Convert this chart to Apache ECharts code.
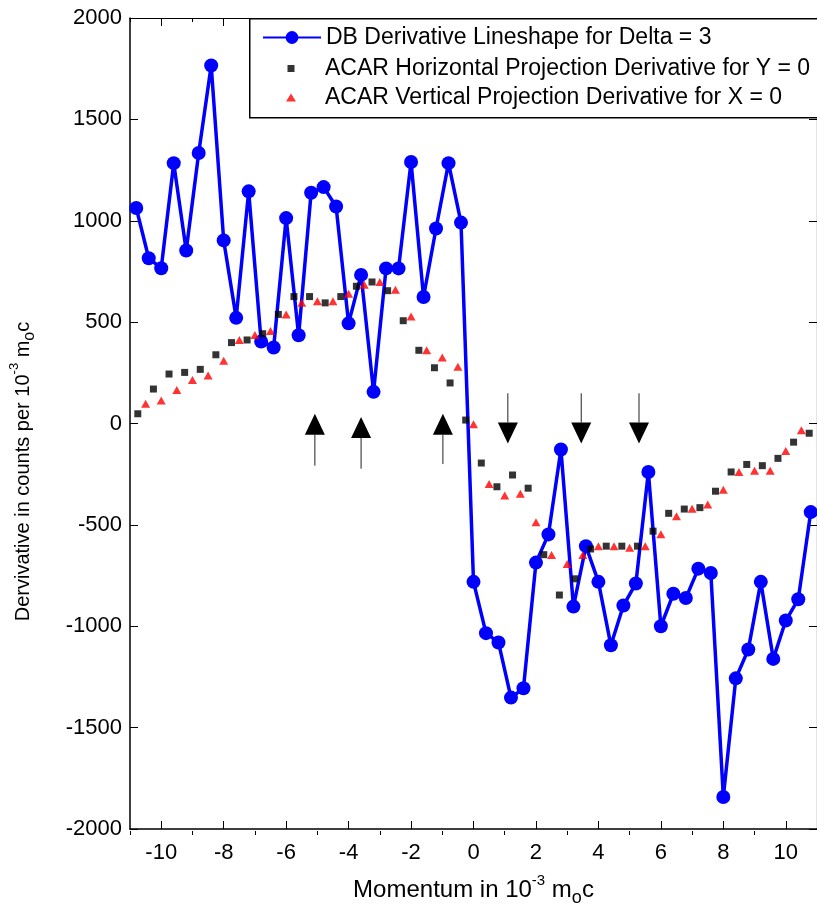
<!DOCTYPE html>
<html><head><meta charset="utf-8">
<script src="https://cdn.jsdelivr.net/npm/echarts@6/dist/echarts.min.js"></script>
<style>html,body{margin:0;padding:0;background:#fff}#c{width:817px;height:912px}</style>
</head><body><div id="c"></div>
<script>
// ---- data ----
const blueX = [-10.8,-10.4,-10.0,-9.6,-9.2,-8.8,-8.4,-8.0,-7.6,-7.2,-6.8,-6.4,-6.0,-5.6,-5.2,-4.8,-4.4,-4.0,-3.6,-3.2,-2.8,-2.4,-2.0,-1.6,-1.2,-0.8,-0.4,0,0.4,0.8,1.2,1.6,2.0,2.4,2.8,3.2,3.6,4.0,4.4,4.8,5.2,5.6,6.0,6.4,6.8,7.2,7.6,8.0,8.4,8.8,9.2,9.6,10.0,10.4,10.8];
const blueY = [1063,815,766,1284,853,1334,1766,903,521,1145,404,375,1013,435,1138,1166,1070,494,733,156,765,765,1290,624,962,1284,991,-781,-1034,-1080,-1352,-1306,-686,-547,-128,-903,-605,-781,-1094,-898,-789,-239,-1000,-840,-861,-716,-737,-1842,-1257,-1115,-781,-1161,-972,-867,-437];
const blackX = [-10.75,-10.25,-9.75,-9.25,-8.75,-8.25,-7.75,-7.25,-6.75,-6.25,-5.75,-5.25,-4.75,-4.25,-3.75,-3.25,-2.75,-2.25,-1.75,-1.25,-0.75,-0.25,0.25,0.75,1.25,1.75,2.25,2.75,3.25,3.75,4.25,4.75,5.25,5.75,6.25,6.75,7.25,7.75,8.25,8.75,9.25,9.75,10.25,10.75];
const blackY = [48,170,244,252,267,339,399,412,443,538,626,626,595,626,677,698,655,507,361,275,200,17,-195,-312,-254,-319,-647,-846,-766,-619,-605,-605,-605,-531,-443,-422,-415,-334,-239,-202,-208,-172,-92,-48];
const redX = [-10.5,-10.0,-9.5,-9.0,-8.5,-8.0,-7.5,-7.0,-6.5,-6.0,-5.5,-5.0,-4.5,-4.0,-3.5,-3.0,-2.5,-2.0,-1.5,-1.0,-0.5,0,0.5,1.0,1.5,2.0,2.5,3.0,3.5,4.0,4.5,5.0,5.5,6.0,6.5,7.0,7.5,8.0,8.5,9.0,9.5,10.0,10.5];
const redY = [97,113,165,214,237,309,412,437,456,538,595,603,603,640,684,698,660,528,361,326,280,-4,-298,-355,-347,-487,-649,-693,-649,-605,-605,-613,-605,-546,-458,-420,-399,-327,-239,-233,-233,-136,-33];
// arrows: [x, tip value, tail value]
const upArrows = [[-5.08,48,-208],[-3.6,32,-223],[-0.98,48,-200]];
const downArrows = [[1.1,-99,149],[3.45,-99,149],[5.3,-99,149]];
const xMajorTicks = [-10,-8,-6,-4,-2,0,2,4,6,8,10];
const xMinorTicks = [-11,-9,-7,-5,-3,-1,1,3,5,7,9,11];
const yTicks = [-2000,-1500,-1000,-500,0,500,1000,1500,2000];
const names = ['DB Derivative Lineshape for Delta = 3','ACAR Horizontal Projection Derivative for Y = 0','ACAR Vertical Projection Derivative for X = 0'];

const zip = (a,b) => a.map((v,i)=>[v,b[i]]);
const FONT = "'Liberation Sans', Arial, sans-serif";

function arrowItem(params, api){
  const x = api.value(0);
  const tip = api.coord([x, api.value(1)]);
  const tail = api.coord([x, api.value(2)]);
  const dir = tail[1] > tip[1] ? 1 : -1;
  const base = tip[1] + dir*21;
  return {type:'group', children:[
    {type:'polygon', shape:{points:[[tip[0],tip[1]],[tip[0]-10,base],[tip[0]+10,base]]}, style:{fill:'#000'}},
    {type:'line', shape:{x1:tip[0],y1:base,x2:tail[0],y2:tail[1]}, style:{stroke:'#222',lineWidth:1}}
  ]};
}

const grid = {left:130, top:18, right:-7, bottom:77, containLabel:false};
const richX = {
  b:{fontSize:24, fontFamily:FONT, color:'#000', lineHeight:34},
  sup:{fontSize:15, fontFamily:FONT, color:'#000', verticalAlign:'top', lineHeight:15},
  sub:{fontSize:18, fontFamily:FONT, color:'#000', verticalAlign:'bottom', lineHeight:14}
};
const richY = {
  b:{fontSize:20, fontFamily:FONT, color:'#000', lineHeight:30},
  sup:{fontSize:13, fontFamily:FONT, color:'#000', verticalAlign:'top', lineHeight:13},
  sub:{fontSize:16, fontFamily:FONT, color:'#000', verticalAlign:'bottom', lineHeight:12}
};
const option = {
  animation:false,
  backgroundColor:'#fff',
  grid:[grid, Object.assign({}, grid)],
  xAxis:[
    {gridIndex:0, type:'value', min:-11, max:11, position:'bottom',
     axisLine:{show:true,onZero:false,lineStyle:{color:'#000',width:1.5}},
     axisTick:{show:true,inside:true,length:8,customValues:xMajorTicks,lineStyle:{color:'#000'}},
     axisLabel:{customValues:xMajorTicks,fontSize:22,fontFamily:FONT,color:'#000',margin:13},
     splitLine:{show:false},
     name:'{b|Momentum in 10}{sup|-3}{b| m}{sub|o}{b|c}', nameLocation:'middle', nameGap:44,
     nameTextStyle:{rich:richX}},
    {gridIndex:0, type:'value', min:-11, max:11, position:'top',
     axisLine:{show:true,onZero:false,lineStyle:{color:'#000',width:1.2}},
     axisTick:{show:true,inside:true,length:8,customValues:xMajorTicks,lineStyle:{color:'#000'}},
     axisLabel:{show:false}, splitLine:{show:false}},
    {gridIndex:1, type:'value', min:-11, max:11, position:'bottom',
     axisLine:{show:false,onZero:false},
     axisTick:{show:true,inside:true,length:4,customValues:xMinorTicks,lineStyle:{color:'#000'}},
     axisLabel:{show:false}, splitLine:{show:false}},
    {gridIndex:1, type:'value', min:-11, max:11, position:'top',
     axisLine:{show:false,onZero:false},
     axisTick:{show:true,inside:true,length:4,customValues:xMinorTicks,lineStyle:{color:'#000'}},
     axisLabel:{show:false}, splitLine:{show:false}}
  ],
  yAxis:[
    {gridIndex:0, type:'value', min:-2000, max:2000, position:'left',
     axisLine:{show:true,onZero:false,lineStyle:{color:'#000',width:1.5}},
     axisTick:{show:true,inside:true,length:8,customValues:yTicks,lineStyle:{color:'#000'}},
     axisLabel:{customValues:yTicks,fontSize:22,fontFamily:FONT,color:'#000',margin:8,
       formatter:(v)=>String(v)},
     splitLine:{show:false},
     name:'{b|Dervivative in counts per 10}{sup|-3}{b| m}{sub|o}{b|c}', nameLocation:'middle', nameGap:92,
     nameTextStyle:{rich:richY, padding:[0,96,0,0]}},
    {gridIndex:0, type:'value', min:-2000, max:2000, position:'right',
     axisLine:{show:true,onZero:false,lineStyle:{color:'#000',width:1.2}},
     axisTick:{show:true,inside:true,length:8,customValues:yTicks,lineStyle:{color:'#000'}},
     axisLabel:{show:false}, splitLine:{show:false}},
    {gridIndex:1, type:'value', min:-2000, max:2000, show:false}
  ],
  graphic:[{type:'rect', left:249, top:18, z:3, shape:{width:640,height:99},
    style:{fill:'#fff', stroke:'#000', lineWidth:1.5}}],
  legend:[
    {data:[names[0]], left:262, top:26, itemWidth:58, itemHeight:16, padding:0, selectedMode:false,
     textStyle:{fontSize:23, fontFamily:FONT, color:'#000'}},
    {data:[{name:names[1], icon:'path://M0,0L1,0L1,1L0,1Z'}], left:287.5, top:57, itemWidth:58, itemHeight:7,
     padding:0, selectedMode:false, symbolKeepAspect:true,
     textStyle:{fontSize:23, fontFamily:FONT, color:'#000'}},
    {data:[{name:names[2], icon:'path://M5,0L10,8L0,8Z'}], left:286, top:86, itemWidth:58, itemHeight:8,
     padding:0, selectedMode:false, symbolKeepAspect:true,
     textStyle:{fontSize:23, fontFamily:FONT, color:'#000'}}
  ],
  series:[
    {name:names[0], type:'line', xAxisIndex:0, yAxisIndex:0, data:zip(blueX,blueY),
     symbol:'circle', symbolSize:14, showAllSymbol:true, z:2,
     lineStyle:{color:'#0000ff', width:3.5}, itemStyle:{color:'#0000ff'}},
    {name:names[1], type:'scatter', xAxisIndex:0, yAxisIndex:0, data:zip(blackX,blackY),
     symbol:'rect', symbolSize:7, z:3, itemStyle:{color:'#000'}},
    {name:names[2], type:'scatter', xAxisIndex:0, yAxisIndex:0, data:zip(redX,redY),
     symbol:'triangle', symbolSize:[9,8], z:4, itemStyle:{color:'#ff0000'}},
    {type:'custom', xAxisIndex:0, yAxisIndex:0, data:upArrows, renderItem:arrowItem, z:5,
     encode:{x:0, y:[1,2]}},
    {type:'custom', xAxisIndex:0, yAxisIndex:0, data:downArrows, renderItem:arrowItem, z:5,
     encode:{x:0, y:[1,2]}}
  ]
};
const chart = echarts.init(document.getElementById('c'), null, {renderer:'canvas'});
chart.setOption(option);
</script></body></html>
